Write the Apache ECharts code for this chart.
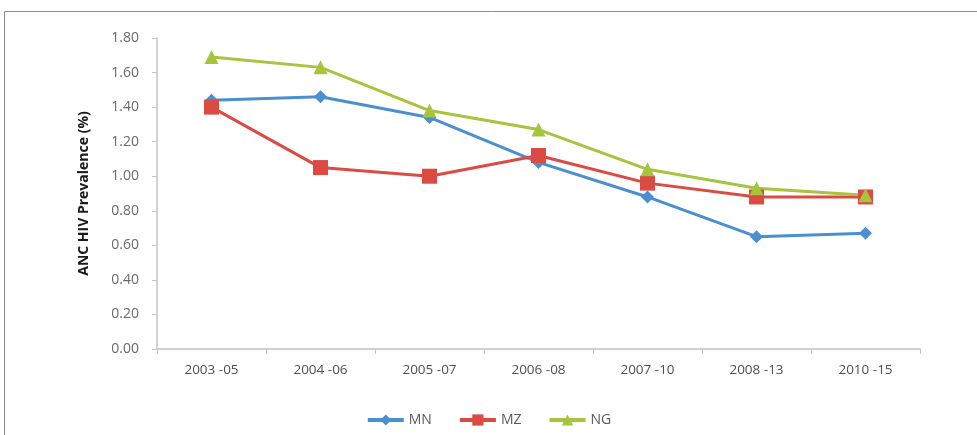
<!DOCTYPE html>
<html><head><meta charset="utf-8">
<script src="https://cdn.jsdelivr.net/npm/echarts@6/dist/echarts.min.js"></script>
<style>html,body{margin:0;padding:0;background:#fff}#c{width:977px;height:435px}</style>
</head><body><div id="c"></div>
<script>
const categories = ['2003 -05','2004 -06','2005 -07','2006 -08','2007 -10','2008 -13','2010 -15'];
const mnValues = [1.44, 1.46, 1.34, 1.08, 0.88, 0.65, 0.67];
const mzValues = [1.40, 1.05, 1.00, 1.12, 0.96, 0.88, 0.88];
const ngValues = [1.69, 1.63, 1.38, 1.27, 1.04, 0.93, 0.89];
const yTicks = {min: 0, max: 1.8, interval: 0.2};

const chart = echarts.init(document.getElementById('c'), null, {renderer: 'canvas'});
const font = 'Open Sans, Liberation Sans, sans-serif';
function ser(name, data, color, symbol, size) {
  return {name, type: 'line', data, symbol, symbolSize: size, showAllSymbol: true,
    lineStyle: {color, width: 3}, itemStyle: {color}, emphasis: {disabled: true}};
}
chart.setOption({
  animation: false,
  graphic: [{type: 'rect', shape: {x: 4.5, y: 11.5, width: 1000, height: 1000},
    style: {fill: 'none', stroke: '#8c8c8c', lineWidth: 1}, silent: true}],
  grid: {left: 157, right: 57, top: 38, bottom: 86},
  legend: {bottom: 3, left: 'center', itemWidth: 36, itemHeight: 14, itemGap: 26,
    lineStyle: {width: 4},
    textStyle: {fontFamily: font, fontSize: 14, color: '#595959'},
    data: ['MN', 'MZ', 'NG']},
  xAxis: {type: 'category', data: categories, boundaryGap: true,
    axisLine: {lineStyle: {color: '#c4c4c4', width: 1.5}},
    axisTick: {show: true, length: 5, lineStyle: {color: '#c4c4c4'}},
    axisLabel: {fontFamily: font, fontSize: 13.5, color: '#505050', margin: 14}},
  yAxis: {type: 'value', min: yTicks.min, max: yTicks.max, interval: yTicks.interval,
    name: 'ANC HIV Prevalence (%)', nameLocation: 'middle', nameGap: 66,
    nameTextStyle: {fontFamily: font, fontSize: 14, fontWeight: 'bold', color: '#1a1a1a'},
    axisLine: {show: true, lineStyle: {color: '#c4c4c4', width: 1.5}},
    axisTick: {show: true, length: 5, lineStyle: {color: '#c4c4c4'}},
    splitLine: {show: false},
    axisLabel: {fontFamily: font, fontSize: 14, color: '#6a6a6a', margin: 18,
      formatter: v => v.toFixed(2)}},
  series: [
    ser('MN', mnValues, '#4a8fcf', 'diamond', 13),
    ser('MZ', mzValues, '#dc4a44', 'rect', 15),
    ser('NG', ngValues, '#a6c43c', 'triangle', 14)
  ]
});
</script></body></html>
